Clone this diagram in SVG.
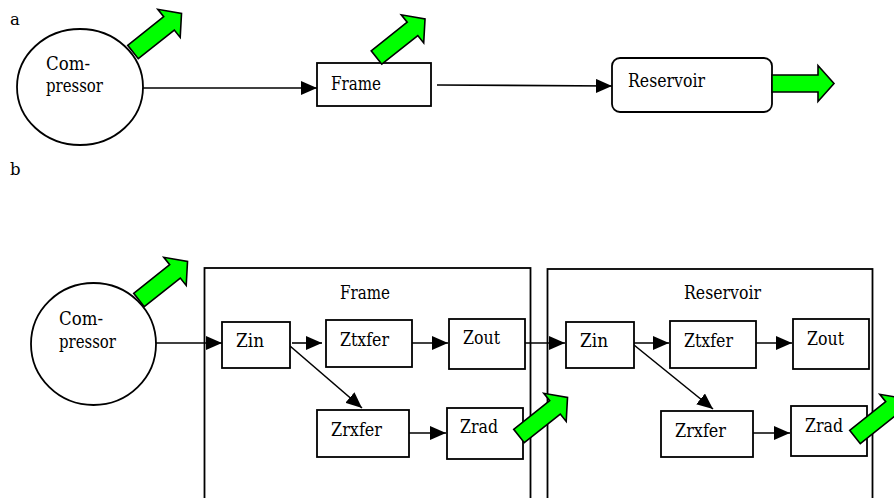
<svg xmlns="http://www.w3.org/2000/svg" width="894" height="498" viewBox="0 0 894 498">
<style>
text{font-family:'DejaVu Serif',serif;font-size:18.5px;fill:#000}
.lbl{font-size:16.5px}
.box{fill:#fff;stroke:#000;stroke-width:1.8}
.outer{fill:none;stroke:#000;stroke-width:1.8}
.edge{fill:none;stroke:#000;stroke-width:1.6;marker-end:url(#ah)}
.flow{fill:#00ff00;stroke:#000;stroke-width:1.6;stroke-linejoin:miter}
</style>
<defs>
<marker id="ah" markerUnits="userSpaceOnUse" markerWidth="16" markerHeight="14" refX="16" refY="7" orient="auto">
<path d="M0,0 L16,7 L0,14 Z" fill="#000"/>
</marker>
<path id="garrow" d="M0,-8.5 L46,-8.5 L46,-18 L62,0 L46,18 L46,8.5 L0,8.5 Z"/>
</defs>

<text class="lbl" x="10" y="25">a</text>
<text class="lbl" x="10" y="175">b</text>

<g id="outer-frame"><rect class="outer" x="204.5" y="268" width="326" height="240"/><text x="340" y="299" textLength="50" lengthAdjust="spacingAndGlyphs">Frame</text></g>
<g id="outer-reservoir"><rect class="outer" x="547.5" y="269" width="325" height="240"/><text x="684" y="299" textLength="77" lengthAdjust="spacingAndGlyphs">Reservoir</text></g>

<g id="connectors">
<line class="edge" x1="143" y1="88" x2="317" y2="88"/>
<line class="edge" x1="437" y1="85" x2="612" y2="86"/>
<line class="edge" x1="156" y1="343" x2="222" y2="343"/>
<line class="edge" x1="292" y1="343" x2="322" y2="343"/>
<line class="edge" x1="410" y1="343" x2="448" y2="343"/>
<line class="edge" x1="290" y1="346" x2="362" y2="408"/>
<line class="edge" x1="409" y1="433" x2="446" y2="433"/>
<line class="edge" x1="525" y1="343" x2="565" y2="343"/>
<line class="edge" x1="634" y1="343" x2="669" y2="343"/>
<line class="edge" x1="756" y1="343" x2="792" y2="343"/>
<line class="edge" x1="634" y1="345" x2="713" y2="409"/>
<line class="edge" x1="753" y1="433" x2="790" y2="433"/>
</g>

<g id="a-compressor"><ellipse class="box" cx="80" cy="87" rx="63" ry="58"/><text x="46" y="70" textLength="44" lengthAdjust="spacingAndGlyphs">Com-</text><text x="46" y="92" textLength="57" lengthAdjust="spacingAndGlyphs">pressor</text></g>
<g id="a-frame"><rect class="box" x="317" y="63" width="114" height="43"/><text x="331" y="90" textLength="50" lengthAdjust="spacingAndGlyphs">Frame</text></g>
<g id="a-reservoir"><rect class="box" x="612" y="58" width="160" height="54" rx="8"/><text x="628" y="87" textLength="77" lengthAdjust="spacingAndGlyphs">Reservoir</text></g>

<g id="b-compressor"><ellipse class="box" cx="93.5" cy="344" rx="62.5" ry="61"/><text x="59" y="325" textLength="44" lengthAdjust="spacingAndGlyphs">Com-</text><text x="59" y="348" textLength="57" lengthAdjust="spacingAndGlyphs">pressor</text></g>

<g id="f-zin"><rect class="box" x="222" y="322" width="68" height="46"/><text x="236" y="347" textLength="28" lengthAdjust="spacingAndGlyphs">Zin</text></g>
<g id="f-ztxfer"><rect class="box" x="326" y="320" width="86" height="47"/><text x="340" y="346" textLength="49" lengthAdjust="spacingAndGlyphs">Ztxfer</text></g>
<g id="f-zout"><rect class="box" x="449" y="319" width="76" height="50"/><text x="463" y="344" textLength="37" lengthAdjust="spacingAndGlyphs">Zout</text></g>
<g id="f-zrxfer"><rect class="box" x="317" y="410" width="92" height="47"/><text x="331" y="436" textLength="51" lengthAdjust="spacingAndGlyphs">Zrxfer</text></g>
<g id="f-zrad"><rect class="box" x="447" y="408" width="76" height="51"/><text x="460" y="433" textLength="38" lengthAdjust="spacingAndGlyphs">Zrad</text></g>

<g id="r-zin"><rect class="box" x="566" y="322" width="68" height="46"/><text x="580" y="347" textLength="28" lengthAdjust="spacingAndGlyphs">Zin</text></g>
<g id="r-ztxfer"><rect class="box" x="670" y="321" width="86" height="47"/><text x="684" y="347" textLength="49" lengthAdjust="spacingAndGlyphs">Ztxfer</text></g>
<g id="r-zout"><rect class="box" x="793" y="319" width="76" height="50"/><text x="807" y="345" textLength="37" lengthAdjust="spacingAndGlyphs">Zout</text></g>
<g id="r-zrxfer"><rect class="box" x="661" y="411" width="92" height="46"/><text x="675" y="437" textLength="51" lengthAdjust="spacingAndGlyphs">Zrxfer</text></g>
<g id="r-zrad"><rect class="box" x="791" y="406" width="76" height="50"/><text x="805" y="432" textLength="38" lengthAdjust="spacingAndGlyphs">Zrad</text></g>

<g id="heat-flows">
<use href="#garrow" class="flow" transform="translate(133,52) rotate(-38.5)"/>
<use href="#garrow" class="flow" transform="translate(376.5,57.5) rotate(-38.5)"/>
<use href="#garrow" class="flow" transform="translate(772,83.5)"/>
<use href="#garrow" class="flow" transform="translate(139,300) rotate(-38.5)"/>
<use href="#garrow" class="flow" transform="translate(519,436) rotate(-38.5)"/>
<use href="#garrow" class="flow" transform="translate(855,437) rotate(-38.5)"/>
</g>
</svg>
